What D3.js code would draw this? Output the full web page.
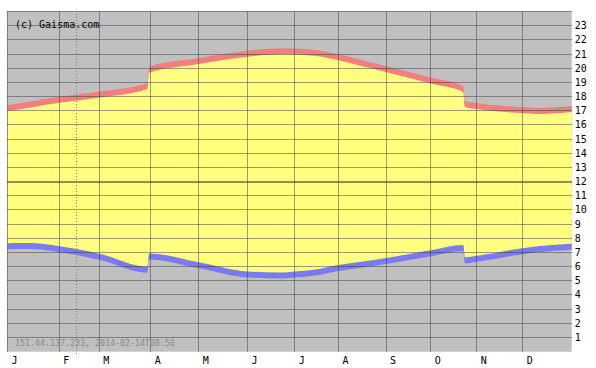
<!DOCTYPE html>
<html><head><meta charset="utf-8">
<script src="https://cdn.jsdelivr.net/npm/d3@7"></script>
<style>body{margin:0;background:#fff}svg{display:block}text{font-family:"DejaVu Sans Mono",monospace}</style>
</head><body><svg id="c" width="596" height="368"></svg>
<script>
// ---- data ----
const monthLabels = ["J","F","M","A","M","J","J","A","S","O","N","D"];
const monthStartDays = [0,31,59,90,120,151,181,212,243,273,304,334,365];
const hourTicks = d3.range(1,24);
const days    = [0,13,31,59,88,89,120,151,172,181,199,212,227,243,252,273,295,296,304,334,345,365];
const sunset  = [17.15,17.39,17.73,18.11,18.71,19.85,20.47,20.99,21.16,21.14,21.00,20.73,20.33,19.91,19.66,19.09,18.47,17.46,17.29,17.01,16.94,17.08];
const sunrise = [7.39,7.41,7.19,6.66,5.74,6.67,6.05,5.40,5.33,5.40,5.60,5.86,6.09,6.35,6.52,6.90,7.27,6.40,6.51,7.04,7.20,7.36];
const todayDay = 44;
const copyright = "(c) Gaisma.com";
const stamp = "151.44.137.233, 2014-02-14T08:50";

// ---- layout ----
const svg = d3.select("#c");
const pTop = 11, pBottom = 351, pRight = 571.7;
const x = d3.scaleLinear().domain(monthStartDays)
  .range([7.5,59.3,99.3,150.7,198.7,247.5,294.7,338.5,386,430.7,476.7,522.7,571.7]);
const y = d3.scaleLinear().domain([0,24]).range([pBottom, pTop]);
const data = days.map((d,i)=>({d, rise:sunrise[i], set:sunset[i]}));
const half = 3.0;

svg.append("rect").attr("x",7).attr("y",pTop).attr("width",pRight-7).attr("height",pBottom-pTop+0.7).attr("fill","#c0c0c0");

svg.append("path").datum(data).attr("fill","#ffff80")
  .attr("d", d3.area().curve(d3.curveMonotoneX).x(p=>x(p.d)).y0(p=>y(p.rise)).y1(p=>y(p.set)));
svg.append("path").datum(data).attr("fill","#f27e7e")
  .attr("d", d3.area().curve(d3.curveMonotoneX).x(p=>x(p.d)).y0(p=>y(p.set)+half).y1(p=>y(p.set)-half));
svg.append("path").datum(data).attr("fill","#7a7af2")
  .attr("d", d3.area().curve(d3.curveMonotoneX).x(p=>x(p.d)).y0(p=>y(p.rise)+half).y1(p=>y(p.rise)-half));

// grid
const g = svg.append("g").attr("shape-rendering","crispEdges");
g.selectAll(".h").data(d3.range(1,25)).join("line")
  .attr("x1",7).attr("x2",pRight).attr("y1",h=>Math.round(y(h))+0.5).attr("y2",h=>Math.round(y(h))+0.5)
  .attr("stroke", h=>h===12?"rgba(80,70,30,0.6)":"rgba(60,60,60,0.5)").attr("stroke-width",h=>h===12?2:1);
g.selectAll(".v").data(monthStartDays.slice(0,12)).join("line")
  .attr("y1",pTop).attr("y2",pBottom+0.7).attr("x1",d=>Math.floor(x(d))+0.5).attr("x2",d=>Math.floor(x(d))+0.5)
  .attr("stroke","rgba(60,60,60,0.5)");
svg.append("line").attr("x1",Math.floor(x(todayDay))-0.5).attr("x2",Math.floor(x(todayDay))-0.5)
  .attr("y1",pTop).attr("y2",355).attr("stroke","#808080").attr("stroke-dasharray","1,2");

// texts
svg.append("text").attr("x",15).attr("y",27.5).attr("font-size",10).attr("fill","#000").text(copyright);
svg.append("text").attr("x",15).attr("y",345.5).attr("font-size",8.3).attr("fill","#8a8a8a").text(stamp);

// axes
const ya = svg.append("g").attr("transform",`translate(${pRight},0)`)
  .call(d3.axisRight(y).tickValues(hourTicks).tickSize(0).tickPadding(3));
ya.select(".domain").remove();
ya.selectAll("text").attr("font-size",10).attr("font-family","DejaVu Sans Mono").attr("fill","#000").attr("dy","0.36em");

const xa = svg.append("g").attr("transform",`translate(0,${pBottom})`)
  .call(d3.axisBottom(x).tickValues(monthStartDays.slice(0,12)).tickFormat((d,i)=>monthLabels[i]).tickSize(0).tickPadding(5.5));
xa.select(".domain").remove();
xa.selectAll("text").attr("font-size",10).attr("font-family","DejaVu Sans Mono").attr("fill","#000").attr("dx",6.5);
</script></body></html>
